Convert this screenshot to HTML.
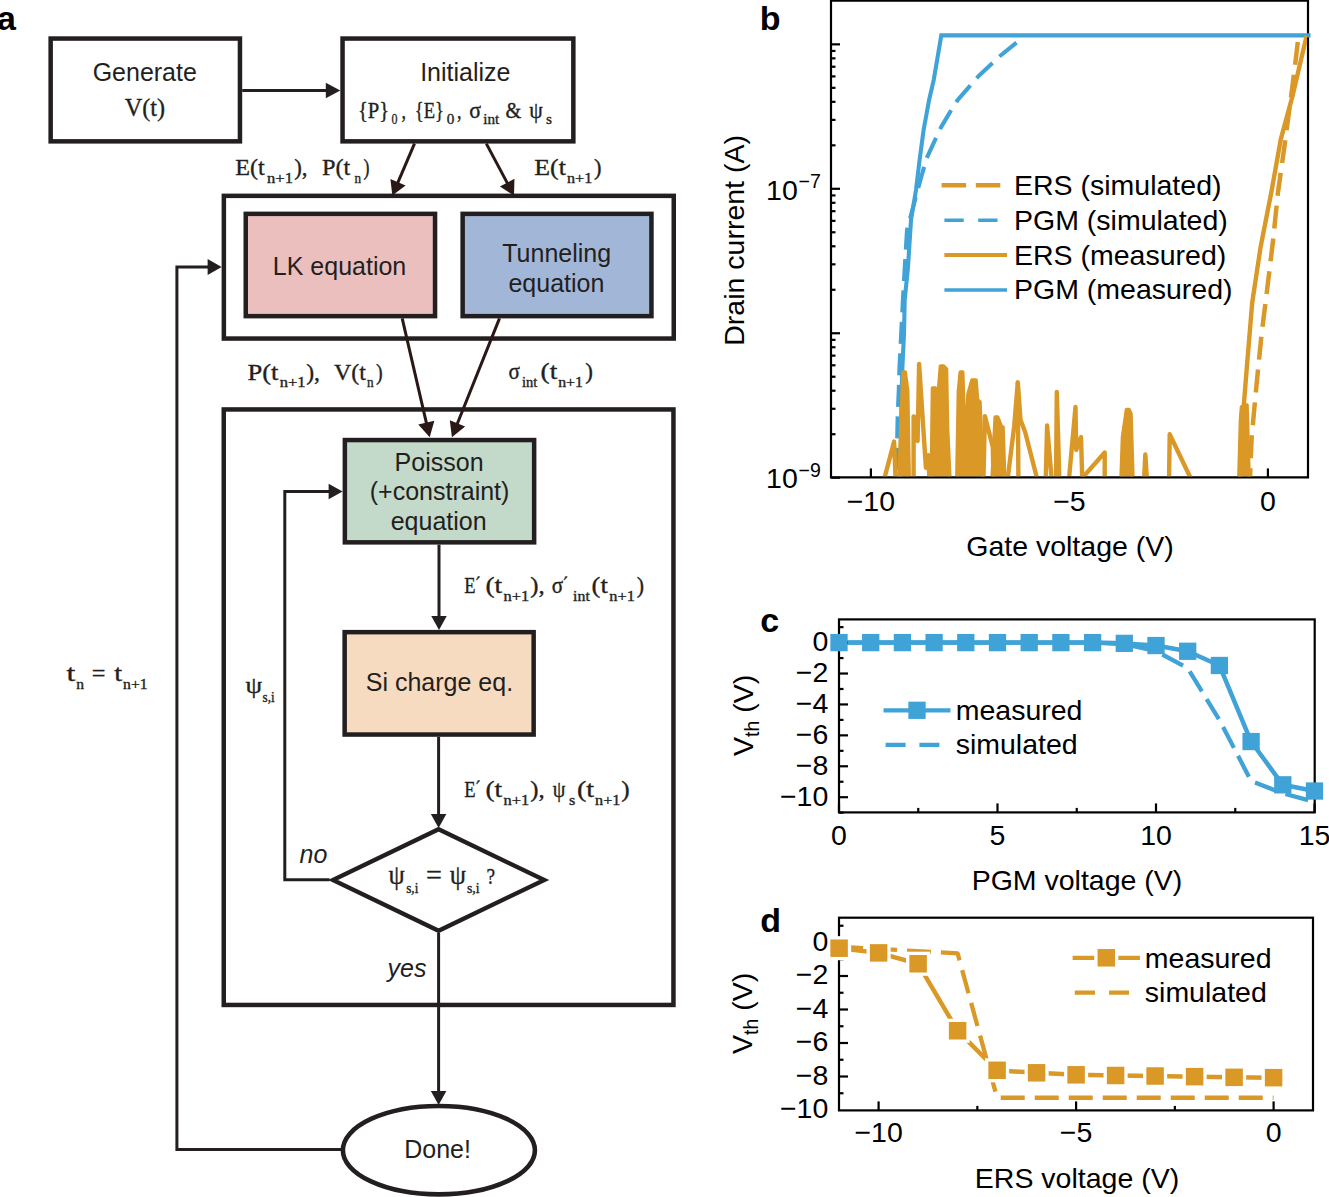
<!DOCTYPE html>
<html><head><meta charset="utf-8"><title>Figure</title>
<style>
html,body{margin:0;padding:0;background:#fff;}
body{width:1329px;height:1197px;overflow:hidden;font-family:"Liberation Sans", sans-serif;}
svg{display:block;}
text{white-space:pre;}
</style></head>
<body>
<svg width="1329" height="1197" viewBox="0 0 1329 1197">
<rect width="1329" height="1197" fill="#fff"/>
<g id="panelA">
<text x="-3.00" y="29.50" font-family='"Liberation Sans", sans-serif' font-size="34" text-anchor="start" font-weight="bold" font-style="normal" fill="#000" >a</text>
<rect x="50.65" y="38.55" width="189.30" height="102.80" fill="#fff" stroke="#231f20" stroke-width="4.5"/>
<rect x="342.55" y="38.55" width="230.80" height="102.80" fill="#fff" stroke="#231f20" stroke-width="4.5"/>
<rect x="223.85" y="195.85" width="449.90" height="142.70" fill="none" stroke="#231f20" stroke-width="4.5"/>
<rect x="245.75" y="213.85" width="189.30" height="102.30" fill="#ecbfbf" stroke="#231f20" stroke-width="4.5"/>
<rect x="462.65" y="213.85" width="188.80" height="102.30" fill="#a2b6d8" stroke="#231f20" stroke-width="4.5"/>
<rect x="223.75" y="409.45" width="449.70" height="595.50" fill="none" stroke="#231f20" stroke-width="4.5"/>
<rect x="344.85" y="440.05" width="189.30" height="102.30" fill="#c3d9ca" stroke="#231f20" stroke-width="4.5"/>
<rect x="344.65" y="632.15" width="189.00" height="102.40" fill="#f6dbc1" stroke="#231f20" stroke-width="4.5"/>
<path d="M438.60,829.20 L544.30,880.00 L438.60,930.80 L332.90,880.00 Z" fill="#fff" stroke="#231f20" stroke-width="4.3" stroke-linejoin="miter" stroke-miterlimit="10"/>
<ellipse cx="438.9" cy="1150.2" rx="96" ry="44.2" fill="#fff" stroke="#231f20" stroke-width="4.6"/>
<path d="M242.20,90.40 L326.80,90.40" fill="none" stroke="#231f20" stroke-width="3" />
<path d="M340.30,90.40 L325.80,98.15 L325.80,82.65 Z" fill="#231f20"/>
<path d="M414.50,143.60 L397.61,183.09" fill="none" stroke="#2a1816" stroke-width="3" />
<path d="M392.30,195.50 L390.42,178.92 L405.59,185.41 Z" fill="#2a1816"/>
<path d="M486.30,143.60 L507.64,183.59" fill="none" stroke="#2a1816" stroke-width="3" />
<path d="M514.00,195.50 L499.89,186.59 L514.45,178.82 Z" fill="#2a1816"/>
<path d="M402.20,318.40 L426.55,423.66" fill="none" stroke="#2a1816" stroke-width="3" />
<path d="M429.70,437.30 L418.28,424.54 L434.36,420.83 Z" fill="#2a1816"/>
<path d="M499.50,318.40 L457.10,424.30" fill="none" stroke="#2a1816" stroke-width="3" />
<path d="M451.90,437.30 L449.82,420.31 L465.13,426.44 Z" fill="#2a1816"/>
<path d="M439.00,544.60 L439.00,617.00" fill="none" stroke="#231f20" stroke-width="3" />
<path d="M439.00,630.00 L431.25,616.00 L446.75,616.00 Z" fill="#231f20"/>
<path d="M438.60,736.80 L438.60,815.00" fill="none" stroke="#231f20" stroke-width="3" />
<path d="M438.60,828.00 L430.85,814.00 L446.35,814.00 Z" fill="#231f20"/>
<path d="M438.60,933.00 L438.60,1092.00" fill="none" stroke="#231f20" stroke-width="3" />
<path d="M438.60,1105.00 L430.85,1091.00 L446.35,1091.00 Z" fill="#231f20"/>
<path d="M329.50,879.80 L284.80,879.80 L284.80,491.60 L329.60,491.60" fill="none" stroke="#231f20" stroke-width="3" />
<path d="M342.60,491.60 L328.60,499.35 L328.60,483.85 Z" fill="#231f20"/>
<path d="M343.00,1149.60 L176.90,1149.60 L176.90,266.90 L208.60,266.90" fill="none" stroke="#231f20" stroke-width="3" />
<path d="M221.60,266.90 L207.60,274.90 L207.60,258.90 Z" fill="#231f20"/>
<text x="144.75" y="80.50" font-family='"Liberation Sans", sans-serif' font-size="25" text-anchor="middle" font-weight="normal" font-style="normal" fill="#231f20" >Generate</text>
<text x="124.70" y="115.90" font-family='"Liberation Serif", serif' font-size="25" text-anchor="start" font-weight="normal" font-style="normal" fill="#231f20" textLength="40.40" lengthAdjust="spacingAndGlyphs"  stroke="#231f20" stroke-width="0.35">V(t)</text>
<text x="465.30" y="80.50" font-family='"Liberation Sans", sans-serif' font-size="25" text-anchor="middle" font-weight="normal" font-style="normal" fill="#231f20" >Initialize</text>
<text x="339.55" y="274.80" font-family='"Liberation Sans", sans-serif' font-size="25" text-anchor="middle" font-weight="normal" font-style="normal" fill="#231f20" >LK equation</text>
<text x="556.70" y="261.80" font-family='"Liberation Sans", sans-serif' font-size="25" text-anchor="middle" font-weight="normal" font-style="normal" fill="#231f20" >Tunneling</text>
<text x="556.45" y="291.90" font-family='"Liberation Sans", sans-serif' font-size="25" text-anchor="middle" font-weight="normal" font-style="normal" fill="#231f20" >equation</text>
<text x="439.10" y="470.60" font-family='"Liberation Sans", sans-serif' font-size="25" text-anchor="middle" font-weight="normal" font-style="normal" fill="#231f20" >Poisson</text>
<text x="439.55" y="500.40" font-family='"Liberation Sans", sans-serif' font-size="25" text-anchor="middle" font-weight="normal" font-style="normal" fill="#231f20" >(+constraint)</text>
<text x="438.70" y="530.20" font-family='"Liberation Sans", sans-serif' font-size="25" text-anchor="middle" font-weight="normal" font-style="normal" fill="#231f20" >equation</text>
<text x="439.45" y="690.90" font-family='"Liberation Sans", sans-serif' font-size="25" text-anchor="middle" font-weight="normal" font-style="normal" fill="#231f20" >Si charge eq.</text>
<text x="437.60" y="1157.50" font-family='"Liberation Sans", sans-serif' font-size="25" text-anchor="middle" font-weight="normal" font-style="normal" fill="#231f20" >Done!</text>
<text x="299.60" y="862.70" font-family='"Liberation Sans", sans-serif' font-size="25" text-anchor="start" font-weight="normal" font-style="italic" fill="#231f20" >no</text>
<text x="387.50" y="977.00" font-family='"Liberation Sans", sans-serif' font-size="25" text-anchor="start" font-weight="normal" font-style="italic" fill="#231f20" >yes</text>
<text x="357.90" y="118.40" font-family='"Liberation Serif", serif' font-size="23" text-anchor="start" font-weight="normal" font-style="normal" fill="#231f20" textLength="31.30" lengthAdjust="spacingAndGlyphs"  stroke="#231f20" stroke-width="0.35">{P}</text>
<text x="391.40" y="124.00" font-family='"Liberation Serif", serif' font-size="15" text-anchor="start" font-weight="normal" font-style="normal" fill="#231f20" textLength="6.00" lengthAdjust="spacingAndGlyphs"  stroke="#231f20" stroke-width="0.35">0</text>
<text x="401.50" y="118.40" font-family='"Liberation Serif", serif' font-size="23" text-anchor="start" font-weight="normal" font-style="normal" fill="#231f20" textLength="4.50" lengthAdjust="spacingAndGlyphs"  stroke="#231f20" stroke-width="0.35">,</text>
<text x="414.80" y="118.40" font-family='"Liberation Serif", serif' font-size="23" text-anchor="start" font-weight="normal" font-style="normal" fill="#231f20" textLength="29.20" lengthAdjust="spacingAndGlyphs"  stroke="#231f20" stroke-width="0.35">{E}</text>
<text x="446.70" y="124.00" font-family='"Liberation Serif", serif' font-size="15" text-anchor="start" font-weight="normal" font-style="normal" fill="#231f20" textLength="7.60" lengthAdjust="spacingAndGlyphs"  stroke="#231f20" stroke-width="0.35">0</text>
<text x="457.00" y="118.40" font-family='"Liberation Serif", serif' font-size="23" text-anchor="start" font-weight="normal" font-style="normal" fill="#231f20" textLength="4.50" lengthAdjust="spacingAndGlyphs"  stroke="#231f20" stroke-width="0.35">,</text>
<text x="469.30" y="118.40" font-family='"Liberation Serif", serif' font-size="23" text-anchor="start" font-weight="normal" font-style="normal" fill="#231f20" textLength="11.80" lengthAdjust="spacingAndGlyphs"  stroke="#231f20" stroke-width="0.35">σ</text>
<text x="483.20" y="124.00" font-family='"Liberation Serif", serif' font-size="15" text-anchor="start" font-weight="normal" font-style="normal" fill="#231f20" textLength="16.10" lengthAdjust="spacingAndGlyphs"  stroke="#231f20" stroke-width="0.35">int</text>
<text x="505.60" y="118.40" font-family='"Liberation Serif", serif' font-size="23" text-anchor="start" font-weight="normal" font-style="normal" fill="#231f20" textLength="15.80" lengthAdjust="spacingAndGlyphs"  stroke="#231f20" stroke-width="0.35">&amp;</text>
<text x="529.30" y="118.40" font-family='"Liberation Serif", serif' font-size="23" text-anchor="start" font-weight="normal" font-style="normal" fill="#231f20" textLength="13.50" lengthAdjust="spacingAndGlyphs"  stroke="#231f20" stroke-width="0.35">ψ</text>
<text x="545.90" y="124.00" font-family='"Liberation Serif", serif' font-size="15" text-anchor="start" font-weight="normal" font-style="normal" fill="#231f20" textLength="6.00" lengthAdjust="spacingAndGlyphs"  stroke="#231f20" stroke-width="0.35">s</text>
<text x="235.20" y="174.90" font-family='"Liberation Serif", serif' font-size="23" text-anchor="start" font-weight="normal" font-style="normal" fill="#231f20" textLength="29.50" lengthAdjust="spacingAndGlyphs"  stroke="#231f20" stroke-width="0.35">E(t</text>
<text x="267.10" y="182.50" font-family='"Liberation Serif", serif' font-size="14" text-anchor="start" font-weight="normal" font-style="normal" fill="#231f20" textLength="25.90" lengthAdjust="spacingAndGlyphs"  stroke="#231f20" stroke-width="0.35">n+1</text>
<text x="294.20" y="174.90" font-family='"Liberation Serif", serif' font-size="23" text-anchor="start" font-weight="normal" font-style="normal" fill="#231f20" textLength="13.30" lengthAdjust="spacingAndGlyphs"  stroke="#231f20" stroke-width="0.35">),</text>
<text x="321.90" y="174.90" font-family='"Liberation Serif", serif' font-size="23" text-anchor="start" font-weight="normal" font-style="normal" fill="#231f20" textLength="28.30" lengthAdjust="spacingAndGlyphs"  stroke="#231f20" stroke-width="0.35">P(t</text>
<text x="354.40" y="182.50" font-family='"Liberation Serif", serif' font-size="14" text-anchor="start" font-weight="normal" font-style="normal" fill="#231f20" textLength="6.60" lengthAdjust="spacingAndGlyphs"  stroke="#231f20" stroke-width="0.35">n</text>
<text x="363.50" y="174.90" font-family='"Liberation Serif", serif' font-size="23" text-anchor="start" font-weight="normal" font-style="normal" fill="#231f20" textLength="6.00" lengthAdjust="spacingAndGlyphs"  stroke="#231f20" stroke-width="0.35">)</text>
<text x="534.30" y="174.70" font-family='"Liberation Serif", serif' font-size="23" text-anchor="start" font-weight="normal" font-style="normal" fill="#231f20" textLength="31.60" lengthAdjust="spacingAndGlyphs"  stroke="#231f20" stroke-width="0.35">E(t</text>
<text x="567.00" y="183.00" font-family='"Liberation Serif", serif' font-size="14" text-anchor="start" font-weight="normal" font-style="normal" fill="#231f20" textLength="25.20" lengthAdjust="spacingAndGlyphs"  stroke="#231f20" stroke-width="0.35">n+1</text>
<text x="594.10" y="174.70" font-family='"Liberation Serif", serif' font-size="23" text-anchor="start" font-weight="normal" font-style="normal" fill="#231f20" textLength="7.50" lengthAdjust="spacingAndGlyphs"  stroke="#231f20" stroke-width="0.35">)</text>
<text x="247.50" y="379.50" font-family='"Liberation Serif", serif' font-size="23" text-anchor="start" font-weight="normal" font-style="normal" fill="#231f20" textLength="31.00" lengthAdjust="spacingAndGlyphs"  stroke="#231f20" stroke-width="0.35">P(t</text>
<text x="279.70" y="387.30" font-family='"Liberation Serif", serif' font-size="14" text-anchor="start" font-weight="normal" font-style="normal" fill="#231f20" textLength="25.90" lengthAdjust="spacingAndGlyphs"  stroke="#231f20" stroke-width="0.35">n+1</text>
<text x="306.20" y="379.50" font-family='"Liberation Serif", serif' font-size="23" text-anchor="start" font-weight="normal" font-style="normal" fill="#231f20" textLength="13.80" lengthAdjust="spacingAndGlyphs"  stroke="#231f20" stroke-width="0.35">),</text>
<text x="333.90" y="379.50" font-family='"Liberation Serif", serif' font-size="23" text-anchor="start" font-weight="normal" font-style="normal" fill="#231f20" textLength="31.90" lengthAdjust="spacingAndGlyphs"  stroke="#231f20" stroke-width="0.35">V(t</text>
<text x="367.00" y="387.30" font-family='"Liberation Serif", serif' font-size="14" text-anchor="start" font-weight="normal" font-style="normal" fill="#231f20" textLength="6.60" lengthAdjust="spacingAndGlyphs"  stroke="#231f20" stroke-width="0.35">n</text>
<text x="376.00" y="379.50" font-family='"Liberation Serif", serif' font-size="23" text-anchor="start" font-weight="normal" font-style="normal" fill="#231f20" textLength="6.70" lengthAdjust="spacingAndGlyphs"  stroke="#231f20" stroke-width="0.35">)</text>
<text x="508.40" y="379.30" font-family='"Liberation Serif", serif' font-size="23" text-anchor="start" font-weight="normal" font-style="normal" fill="#231f20" textLength="11.40" lengthAdjust="spacingAndGlyphs"  stroke="#231f20" stroke-width="0.35">σ</text>
<text x="522.10" y="387.00" font-family='"Liberation Serif", serif' font-size="14" text-anchor="start" font-weight="normal" font-style="normal" fill="#231f20" textLength="15.30" lengthAdjust="spacingAndGlyphs"  stroke="#231f20" stroke-width="0.35">int</text>
<text x="540.60" y="379.30" font-family='"Liberation Serif", serif' font-size="23" text-anchor="start" font-weight="normal" font-style="normal" fill="#231f20" textLength="16.70" lengthAdjust="spacingAndGlyphs"  stroke="#231f20" stroke-width="0.35">(t</text>
<text x="558.20" y="387.00" font-family='"Liberation Serif", serif' font-size="14" text-anchor="start" font-weight="normal" font-style="normal" fill="#231f20" textLength="24.80" lengthAdjust="spacingAndGlyphs"  stroke="#231f20" stroke-width="0.35">n+1</text>
<text x="585.30" y="379.30" font-family='"Liberation Serif", serif' font-size="23" text-anchor="start" font-weight="normal" font-style="normal" fill="#231f20" textLength="7.70" lengthAdjust="spacingAndGlyphs"  stroke="#231f20" stroke-width="0.35">)</text>
<text x="464.20" y="592.90" font-family='"Liberation Serif", serif' font-size="23" text-anchor="start" font-weight="normal" font-style="normal" fill="#231f20" textLength="11.30" lengthAdjust="spacingAndGlyphs"  stroke="#231f20" stroke-width="0.35">E</text>
<text x="475.30" y="592.90" font-family='"Liberation Serif", serif' font-size="23" text-anchor="start" font-weight="normal" font-style="normal" fill="#231f20" textLength="5.20" lengthAdjust="spacingAndGlyphs"  stroke="#231f20" stroke-width="0.35">´</text>
<text x="485.50" y="592.90" font-family='"Liberation Serif", serif' font-size="23" text-anchor="start" font-weight="normal" font-style="normal" fill="#231f20" textLength="16.70" lengthAdjust="spacingAndGlyphs"  stroke="#231f20" stroke-width="0.35">(t</text>
<text x="503.60" y="600.50" font-family='"Liberation Serif", serif' font-size="14" text-anchor="start" font-weight="normal" font-style="normal" fill="#231f20" textLength="25.70" lengthAdjust="spacingAndGlyphs"  stroke="#231f20" stroke-width="0.35">n+1</text>
<text x="530.20" y="592.90" font-family='"Liberation Serif", serif' font-size="23" text-anchor="start" font-weight="normal" font-style="normal" fill="#231f20" textLength="14.40" lengthAdjust="spacingAndGlyphs"  stroke="#231f20" stroke-width="0.35">),</text>
<text x="551.80" y="592.90" font-family='"Liberation Serif", serif' font-size="23" text-anchor="start" font-weight="normal" font-style="normal" fill="#231f20" textLength="11.40" lengthAdjust="spacingAndGlyphs"  stroke="#231f20" stroke-width="0.35">σ</text>
<text x="562.80" y="592.90" font-family='"Liberation Serif", serif' font-size="23" text-anchor="start" font-weight="normal" font-style="normal" fill="#231f20" textLength="5.20" lengthAdjust="spacingAndGlyphs"  stroke="#231f20" stroke-width="0.35">´</text>
<text x="573.10" y="600.50" font-family='"Liberation Serif", serif' font-size="14" text-anchor="start" font-weight="normal" font-style="normal" fill="#231f20" textLength="16.70" lengthAdjust="spacingAndGlyphs"  stroke="#231f20" stroke-width="0.35">int</text>
<text x="591.60" y="592.90" font-family='"Liberation Serif", serif' font-size="23" text-anchor="start" font-weight="normal" font-style="normal" fill="#231f20" textLength="16.20" lengthAdjust="spacingAndGlyphs"  stroke="#231f20" stroke-width="0.35">(t</text>
<text x="609.30" y="600.50" font-family='"Liberation Serif", serif' font-size="14" text-anchor="start" font-weight="normal" font-style="normal" fill="#231f20" textLength="25.60" lengthAdjust="spacingAndGlyphs"  stroke="#231f20" stroke-width="0.35">n+1</text>
<text x="636.70" y="592.90" font-family='"Liberation Serif", serif' font-size="23" text-anchor="start" font-weight="normal" font-style="normal" fill="#231f20" textLength="7.30" lengthAdjust="spacingAndGlyphs"  stroke="#231f20" stroke-width="0.35">)</text>
<text x="464.20" y="796.80" font-family='"Liberation Serif", serif' font-size="23" text-anchor="start" font-weight="normal" font-style="normal" fill="#231f20" textLength="11.30" lengthAdjust="spacingAndGlyphs"  stroke="#231f20" stroke-width="0.35">E</text>
<text x="475.30" y="796.80" font-family='"Liberation Serif", serif' font-size="23" text-anchor="start" font-weight="normal" font-style="normal" fill="#231f20" textLength="5.20" lengthAdjust="spacingAndGlyphs"  stroke="#231f20" stroke-width="0.35">´</text>
<text x="485.50" y="796.80" font-family='"Liberation Serif", serif' font-size="23" text-anchor="start" font-weight="normal" font-style="normal" fill="#231f20" textLength="16.70" lengthAdjust="spacingAndGlyphs"  stroke="#231f20" stroke-width="0.35">(t</text>
<text x="503.60" y="804.50" font-family='"Liberation Serif", serif' font-size="14" text-anchor="start" font-weight="normal" font-style="normal" fill="#231f20" textLength="25.70" lengthAdjust="spacingAndGlyphs"  stroke="#231f20" stroke-width="0.35">n+1</text>
<text x="530.20" y="796.80" font-family='"Liberation Serif", serif' font-size="23" text-anchor="start" font-weight="normal" font-style="normal" fill="#231f20" textLength="14.40" lengthAdjust="spacingAndGlyphs"  stroke="#231f20" stroke-width="0.35">),</text>
<text x="552.70" y="796.80" font-family='"Liberation Serif", serif' font-size="23" text-anchor="start" font-weight="normal" font-style="normal" fill="#231f20" textLength="12.60" lengthAdjust="spacingAndGlyphs"  stroke="#231f20" stroke-width="0.35">ψ</text>
<text x="568.90" y="804.50" font-family='"Liberation Serif", serif' font-size="14" text-anchor="start" font-weight="normal" font-style="normal" fill="#231f20" textLength="6.30" lengthAdjust="spacingAndGlyphs"  stroke="#231f20" stroke-width="0.35">s</text>
<text x="577.00" y="796.80" font-family='"Liberation Serif", serif' font-size="23" text-anchor="start" font-weight="normal" font-style="normal" fill="#231f20" textLength="17.20" lengthAdjust="spacingAndGlyphs"  stroke="#231f20" stroke-width="0.35">(t</text>
<text x="595.10" y="804.50" font-family='"Liberation Serif", serif' font-size="14" text-anchor="start" font-weight="normal" font-style="normal" fill="#231f20" textLength="25.30" lengthAdjust="spacingAndGlyphs"  stroke="#231f20" stroke-width="0.35">n+1</text>
<text x="621.30" y="796.80" font-family='"Liberation Serif", serif' font-size="23" text-anchor="start" font-weight="normal" font-style="normal" fill="#231f20" textLength="8.40" lengthAdjust="spacingAndGlyphs"  stroke="#231f20" stroke-width="0.35">)</text>
<text x="388.60" y="884.40" font-family='"Liberation Serif", serif' font-size="27.5" text-anchor="start" font-weight="normal" font-style="normal" fill="#231f20" textLength="16.20" lengthAdjust="spacingAndGlyphs"  stroke="#231f20" stroke-width="0.35">ψ</text>
<text x="406.20" y="892.50" font-family='"Liberation Serif", serif' font-size="14" text-anchor="start" font-weight="normal" font-style="normal" fill="#231f20" textLength="12.20" lengthAdjust="spacingAndGlyphs"  stroke="#231f20" stroke-width="0.35">s,i</text>
<text x="426.00" y="884.40" font-family='"Liberation Serif", serif' font-size="27" text-anchor="start" font-weight="normal" font-style="normal" fill="#231f20" textLength="15.90" lengthAdjust="spacingAndGlyphs"  stroke="#231f20" stroke-width="0.35">=</text>
<text x="449.80" y="884.40" font-family='"Liberation Serif", serif' font-size="27.5" text-anchor="start" font-weight="normal" font-style="normal" fill="#231f20" textLength="16.20" lengthAdjust="spacingAndGlyphs"  stroke="#231f20" stroke-width="0.35">ψ</text>
<text x="466.90" y="892.50" font-family='"Liberation Serif", serif' font-size="14" text-anchor="start" font-weight="normal" font-style="normal" fill="#231f20" textLength="12.70" lengthAdjust="spacingAndGlyphs"  stroke="#231f20" stroke-width="0.35">s,i</text>
<text x="486.50" y="884.40" font-family='"Liberation Serif", serif' font-size="24" text-anchor="start" font-weight="normal" font-style="normal" fill="#231f20" textLength="8.60" lengthAdjust="spacingAndGlyphs"  stroke="#231f20" stroke-width="0.35">?</text>
<text x="66.40" y="681.30" font-family='"Liberation Serif", serif' font-size="23" text-anchor="start" font-weight="normal" font-style="normal" fill="#231f20" textLength="8.80" lengthAdjust="spacingAndGlyphs"  stroke="#231f20" stroke-width="0.35">t</text>
<text x="76.20" y="688.50" font-family='"Liberation Serif", serif' font-size="14" text-anchor="start" font-weight="normal" font-style="normal" fill="#231f20" textLength="7.80" lengthAdjust="spacingAndGlyphs"  stroke="#231f20" stroke-width="0.35">n</text>
<text x="91.80" y="681.30" font-family='"Liberation Serif", serif' font-size="23" text-anchor="start" font-weight="normal" font-style="normal" fill="#231f20" textLength="13.70" lengthAdjust="spacingAndGlyphs"  stroke="#231f20" stroke-width="0.35">=</text>
<text x="114.30" y="681.30" font-family='"Liberation Serif", serif' font-size="23" text-anchor="start" font-weight="normal" font-style="normal" fill="#231f20" textLength="7.90" lengthAdjust="spacingAndGlyphs"  stroke="#231f20" stroke-width="0.35">t</text>
<text x="123.10" y="688.50" font-family='"Liberation Serif", serif' font-size="14" text-anchor="start" font-weight="normal" font-style="normal" fill="#231f20" textLength="24.50" lengthAdjust="spacingAndGlyphs"  stroke="#231f20" stroke-width="0.35">n+1</text>
<text x="245.40" y="693.00" font-family='"Liberation Serif", serif' font-size="24" text-anchor="start" font-weight="normal" font-style="normal" fill="#231f20" textLength="16.60" lengthAdjust="spacingAndGlyphs"  stroke="#231f20" stroke-width="0.35">ψ</text>
<text x="262.60" y="701.50" font-family='"Liberation Serif", serif' font-size="14" text-anchor="start" font-weight="normal" font-style="normal" fill="#231f20" textLength="12.10" lengthAdjust="spacingAndGlyphs"  stroke="#231f20" stroke-width="0.35">s,i</text>
</g>
<defs><clipPath id="cb"><rect x="832" y="1" width="475" height="475.3"/></clipPath><clipPath id="cb2"><rect x="800" y="0" width="529" height="476.3"/></clipPath><clipPath id="cc"><rect x="820" y="600" width="509" height="212.4"/></clipPath><clipPath id="cd"><rect x="820" y="900" width="509" height="210.5"/></clipPath></defs>
<text x="759.70" y="30.20" font-family='"Liberation Sans", sans-serif' font-size="34" text-anchor="start" font-weight="bold" font-style="normal" fill="#000" >b</text>
<path d="M831,0 L831,477.4 L1308,477.4 L1308,0" fill="none" stroke="#000" stroke-width="2.2"/>
<line x1="831" y1="0.6" x2="1308" y2="0.6" stroke="#000" stroke-width="2.2"/>
<line x1="831.00" y1="477.70" x2="840.00" y2="477.70" stroke="#000" stroke-width="2.2"/>
<line x1="831.00" y1="333.25" x2="840.00" y2="333.25" stroke="#000" stroke-width="2.2"/>
<line x1="831.00" y1="188.80" x2="840.00" y2="188.80" stroke="#000" stroke-width="2.2"/>
<line x1="831.00" y1="44.35" x2="840.00" y2="44.35" stroke="#000" stroke-width="2.2"/>
<line x1="831.00" y1="434.22" x2="835.50" y2="434.22" stroke="#000" stroke-width="2.2"/>
<line x1="831.00" y1="408.78" x2="835.50" y2="408.78" stroke="#000" stroke-width="2.2"/>
<line x1="831.00" y1="390.73" x2="835.50" y2="390.73" stroke="#000" stroke-width="2.2"/>
<line x1="831.00" y1="376.73" x2="835.50" y2="376.73" stroke="#000" stroke-width="2.2"/>
<line x1="831.00" y1="365.30" x2="835.50" y2="365.30" stroke="#000" stroke-width="2.2"/>
<line x1="831.00" y1="355.63" x2="835.50" y2="355.63" stroke="#000" stroke-width="2.2"/>
<line x1="831.00" y1="347.25" x2="835.50" y2="347.25" stroke="#000" stroke-width="2.2"/>
<line x1="831.00" y1="339.86" x2="835.50" y2="339.86" stroke="#000" stroke-width="2.2"/>
<line x1="831.00" y1="289.77" x2="835.50" y2="289.77" stroke="#000" stroke-width="2.2"/>
<line x1="831.00" y1="264.33" x2="835.50" y2="264.33" stroke="#000" stroke-width="2.2"/>
<line x1="831.00" y1="246.28" x2="835.50" y2="246.28" stroke="#000" stroke-width="2.2"/>
<line x1="831.00" y1="232.28" x2="835.50" y2="232.28" stroke="#000" stroke-width="2.2"/>
<line x1="831.00" y1="220.85" x2="835.50" y2="220.85" stroke="#000" stroke-width="2.2"/>
<line x1="831.00" y1="211.18" x2="835.50" y2="211.18" stroke="#000" stroke-width="2.2"/>
<line x1="831.00" y1="202.80" x2="835.50" y2="202.80" stroke="#000" stroke-width="2.2"/>
<line x1="831.00" y1="195.41" x2="835.50" y2="195.41" stroke="#000" stroke-width="2.2"/>
<line x1="831.00" y1="145.32" x2="835.50" y2="145.32" stroke="#000" stroke-width="2.2"/>
<line x1="831.00" y1="119.88" x2="835.50" y2="119.88" stroke="#000" stroke-width="2.2"/>
<line x1="831.00" y1="101.83" x2="835.50" y2="101.83" stroke="#000" stroke-width="2.2"/>
<line x1="831.00" y1="87.83" x2="835.50" y2="87.83" stroke="#000" stroke-width="2.2"/>
<line x1="831.00" y1="76.40" x2="835.50" y2="76.40" stroke="#000" stroke-width="2.2"/>
<line x1="831.00" y1="66.73" x2="835.50" y2="66.73" stroke="#000" stroke-width="2.2"/>
<line x1="831.00" y1="58.35" x2="835.50" y2="58.35" stroke="#000" stroke-width="2.2"/>
<line x1="831.00" y1="50.96" x2="835.50" y2="50.96" stroke="#000" stroke-width="2.2"/>
<line x1="870.90" y1="477.40" x2="870.90" y2="468.40" stroke="#000" stroke-width="2.2"/>
<line x1="1069.40" y1="477.40" x2="1069.40" y2="468.40" stroke="#000" stroke-width="2.2"/>
<line x1="1267.90" y1="477.40" x2="1267.90" y2="468.40" stroke="#000" stroke-width="2.2"/>
<path d="M1016.50,42.60 L1000.00,56.00 L978.90,75.70 L957.80,99.80 L952.70,107.50 L941.10,127.10 L936.60,136.60 L926.60,158.20 L921.00,178.00 L917.60,190.30 L907.00,230.00 L904.60,270.00 L902.90,300.00 L901.20,333.00 L899.50,367.00 L898.70,392.00 L897.70,414.00 L897.00,448.00 L896.50,490.00" fill="none" stroke="#40a3d8" stroke-width="4.1" stroke-linecap="butt" stroke-linejoin="round" stroke-dasharray="22 9.5" clip-path="url(#cb)"/>
<path d="M1310.50,35.40 L941.30,35.40 L933.70,80.20 L929.10,100.00 L923.60,130.00 L919.60,160.00 L916.00,190.00 L911.00,220.00 L908.00,267.00 L904.70,300.00 L904.00,334.00 L902.40,367.00 L901.60,392.00 L901.00,430.00 L900.50,490.00" fill="none" stroke="#40a3d8" stroke-width="4.1" stroke-linecap="butt" stroke-linejoin="miter" clip-path="url(#cb2)"/>
<path d="M1297.80,42.00 L1296.00,57.60 L1292.30,87.30 L1284.60,145.00 L1277.90,193.00 L1273.00,241.00 L1266.80,292.20 L1261.60,334.00 L1256.40,386.10 L1251.60,438.30 L1249.50,490.00" fill="none" stroke="#da9826" stroke-width="4.5" stroke-linecap="butt" stroke-linejoin="round" stroke-dasharray="23 10" clip-path="url(#cb)"/>
<path d="M898.80,481.00 L903.00,372.00 L905.20,372.00 L907.70,391.00 L909.20,481.00 Z" fill="#da9826" stroke="#da9826" stroke-width="3.6" stroke-linejoin="round" clip-path="url(#cb)"/>
<path d="M931.30,481.00 L932.50,388.00 L935.30,388.00 L938.00,396.00 L940.50,366.00 L943.50,366.00 L946.50,369.00 L947.50,427.00 L950.00,481.00 Z" fill="#da9826" stroke="#da9826" stroke-width="3.6" stroke-linejoin="round" clip-path="url(#cb)"/>
<path d="M956.80,481.00 L958.40,391.50 L960.30,372.00 L962.70,372.00 L964.50,427.00 L966.50,427.00 L968.00,394.00 L972.00,380.00 L976.00,380.00 L977.50,400.00 L980.00,402.00 L983.00,481.00 Z" fill="#da9826" stroke="#da9826" stroke-width="3.6" stroke-linejoin="round" clip-path="url(#cb)"/>
<path d="M992.00,481.00 L995.20,417.00 L997.60,417.00 L1001.60,427.00 L1003.00,427.00 L1004.80,481.00 Z" fill="#da9826" stroke="#da9826" stroke-width="3.6" stroke-linejoin="round" clip-path="url(#cb)"/>
<path d="M1121.00,481.00 L1122.50,437.00 L1126.50,409.50 L1129.00,409.50 L1131.00,414.00 L1133.00,481.00 Z" fill="#da9826" stroke="#da9826" stroke-width="3.6" stroke-linejoin="round" clip-path="url(#cb)"/>
<path d="M1238.80,481.00 L1240.50,420.00 L1241.50,407.00 L1247.00,405.00 L1249.20,481.00 Z" fill="#da9826" stroke="#da9826" stroke-width="3.6" stroke-linejoin="round" clip-path="url(#cb)"/>
<path d="M883.70,481.00 L894.10,441.60 L895.70,481.00" fill="none" stroke="#da9826" stroke-width="4.4" stroke-linecap="butt" stroke-linejoin="round" clip-path="url(#cb)"/>
<path d="M913.60,481.00 L913.60,416.50 L916.50,418.00 L917.60,441.00 L919.10,364.00 L925.90,467.70 L928.30,455.20 L929.50,481.00" fill="none" stroke="#da9826" stroke-width="4.4" stroke-linecap="butt" stroke-linejoin="round" clip-path="url(#cb)"/>
<path d="M983.40,481.00 L984.90,416.10 L992.80,447.00 L993.50,481.00" fill="none" stroke="#da9826" stroke-width="4.4" stroke-linecap="butt" stroke-linejoin="round" clip-path="url(#cb)"/>
<path d="M1007.40,481.00 L1014.20,426.00 L1017.80,382.20 L1018.40,481.00" fill="none" stroke="#da9826" stroke-width="4.4" stroke-linecap="butt" stroke-linejoin="round" clip-path="url(#cb)"/>
<path d="M1017.80,382.20 L1020.50,419.80 L1025.20,432.30 L1037.70,481.00" fill="none" stroke="#da9826" stroke-width="4.4" stroke-linecap="butt" stroke-linejoin="round" clip-path="url(#cb)"/>
<path d="M1045.70,481.00 L1047.10,425.40 L1051.80,481.00" fill="none" stroke="#da9826" stroke-width="4.4" stroke-linecap="butt" stroke-linejoin="round" clip-path="url(#cb)"/>
<path d="M1056.00,481.00 L1056.80,392.00 L1058.60,453.00 L1059.30,481.00" fill="none" stroke="#da9826" stroke-width="4.4" stroke-linecap="butt" stroke-linejoin="round" clip-path="url(#cb)"/>
<path d="M1068.80,481.00 L1075.50,407.00 L1076.20,450.00 L1081.00,437.00 L1082.30,481.00" fill="none" stroke="#da9826" stroke-width="4.4" stroke-linecap="butt" stroke-linejoin="round" clip-path="url(#cb)"/>
<path d="M1082.30,478.00 L1104.70,452.50 L1104.70,481.00" fill="none" stroke="#da9826" stroke-width="4.4" stroke-linecap="butt" stroke-linejoin="round" clip-path="url(#cb)"/>
<path d="M1144.00,481.00 L1145.30,454.50 L1147.00,481.00" fill="none" stroke="#da9826" stroke-width="4.4" stroke-linecap="butt" stroke-linejoin="round" clip-path="url(#cb)"/>
<path d="M1169.00,481.00 L1169.70,434.20 L1192.00,481.00" fill="none" stroke="#da9826" stroke-width="4.4" stroke-linecap="butt" stroke-linejoin="round" clip-path="url(#cb)"/>
<path d="M1306.70,35.50 L1292.30,96.90 L1280.80,139.20 L1271.20,193.00 L1260.60,247.00 L1252.20,302.60 L1247.00,365.30 L1242.80,417.50 L1240.00,490.00" fill="none" stroke="#da9826" stroke-width="4.4" stroke-linecap="butt" stroke-linejoin="round" clip-path="url(#cb)"/>
<text x="870.90" y="510.70" font-family='"Liberation Sans", sans-serif' font-size="28.5" text-anchor="middle" font-weight="normal" font-style="normal" fill="#000" >−10</text>
<text x="1069.40" y="510.70" font-family='"Liberation Sans", sans-serif' font-size="28.5" text-anchor="middle" font-weight="normal" font-style="normal" fill="#000" >−5</text>
<text x="1267.90" y="510.70" font-family='"Liberation Sans", sans-serif' font-size="28.5" text-anchor="middle" font-weight="normal" font-style="normal" fill="#000" >0</text>
<text x="797.80" y="199.70" font-family='"Liberation Sans", sans-serif' font-size="28.5" text-anchor="end" font-weight="normal" font-style="normal" fill="#000" >10</text>
<text x="798.60" y="188.30" font-family='"Liberation Sans", sans-serif' font-size="19.5" text-anchor="start" font-weight="normal" font-style="normal" fill="#000" >−7</text>
<text x="797.80" y="488.40" font-family='"Liberation Sans", sans-serif' font-size="28.5" text-anchor="end" font-weight="normal" font-style="normal" fill="#000" >10</text>
<text x="798.60" y="477.00" font-family='"Liberation Sans", sans-serif' font-size="19.5" text-anchor="start" font-weight="normal" font-style="normal" fill="#000" >−9</text>
<text x="1070.00" y="555.50" font-family='"Liberation Sans", sans-serif' font-size="28.5" text-anchor="middle" font-weight="normal" font-style="normal" fill="#000" >Gate voltage (V)</text>
<text x="0.00" y="0.00" font-family='"Liberation Sans", sans-serif' font-size="28.5" text-anchor="middle" font-weight="normal" font-style="normal" fill="#000" transform="translate(744.0,240.4) rotate(-90)">Drain current (A)</text>
<line x1="941.6" y1="185.3" x2="1000.3" y2="185.3" stroke="#da9826" stroke-width="4.5" stroke-dasharray="24.5 9.7"/>
<line x1="944.4" y1="220.2" x2="998.6" y2="220.2" stroke="#40a3d8" stroke-width="3.6" stroke-dasharray="19.3 14.5"/>
<line x1="944.4" y1="255.1" x2="1007" y2="255.1" stroke="#da9826" stroke-width="4"/>
<line x1="944.4" y1="290.0" x2="1007" y2="290.0" stroke="#40a3d8" stroke-width="3.6"/>
<text x="1014.00" y="194.90" font-family='"Liberation Sans", sans-serif' font-size="28.5" text-anchor="start" font-weight="normal" font-style="normal" fill="#000" >ERS (simulated)</text>
<text x="1014.00" y="229.80" font-family='"Liberation Sans", sans-serif' font-size="28.5" text-anchor="start" font-weight="normal" font-style="normal" fill="#000" >PGM (simulated)</text>
<text x="1014.00" y="264.70" font-family='"Liberation Sans", sans-serif' font-size="28.5" text-anchor="start" font-weight="normal" font-style="normal" fill="#000" >ERS (measured)</text>
<text x="1014.00" y="299.20" font-family='"Liberation Sans", sans-serif' font-size="28.5" text-anchor="start" font-weight="normal" font-style="normal" fill="#000" >PGM (measured)</text>
<text x="760.30" y="632.40" font-family='"Liberation Sans", sans-serif' font-size="34" text-anchor="start" font-weight="bold" font-style="normal" fill="#000" >c</text>
<path d="M839.00,642.60 L1092.60,642.60 L1124.30,644.15 L1156.00,651.10 L1187.70,668.11 L1219.40,719.90 L1251.10,780.97 L1282.80,793.34 L1314.50,801.84" fill="none" stroke="#40a3d8" stroke-width="4.3" stroke-linecap="butt" stroke-linejoin="round" stroke-dasharray="23.5 9" clip-path="url(#cc)"/>
<path d="M839.00,642.60 L870.70,642.60 L902.40,642.60 L934.10,642.60 L965.80,642.60 L997.50,642.60 L1029.20,642.60 L1060.90,642.60 L1092.60,642.60 L1124.30,643.37 L1156.00,645.54 L1187.70,651.26 L1219.40,665.48 L1251.10,741.54 L1282.80,784.83 L1314.50,791.02" fill="none" stroke="#40a3d8" stroke-width="4.5" stroke-linecap="butt" stroke-linejoin="round" clip-path="url(#cc)"/>
<rect x="839.00" y="619.40" width="475.70" height="193.00" fill="none" stroke="#000" stroke-width="2.2"/>
<line x1="839.00" y1="642.60" x2="848.00" y2="642.60" stroke="#000" stroke-width="2.2"/>
<line x1="839.00" y1="673.52" x2="848.00" y2="673.52" stroke="#000" stroke-width="2.2"/>
<line x1="839.00" y1="704.44" x2="848.00" y2="704.44" stroke="#000" stroke-width="2.2"/>
<line x1="839.00" y1="735.36" x2="848.00" y2="735.36" stroke="#000" stroke-width="2.2"/>
<line x1="839.00" y1="766.28" x2="848.00" y2="766.28" stroke="#000" stroke-width="2.2"/>
<line x1="839.00" y1="797.20" x2="848.00" y2="797.20" stroke="#000" stroke-width="2.2"/>
<line x1="839.00" y1="627.14" x2="843.50" y2="627.14" stroke="#000" stroke-width="2.2"/>
<line x1="839.00" y1="658.06" x2="843.50" y2="658.06" stroke="#000" stroke-width="2.2"/>
<line x1="839.00" y1="688.98" x2="843.50" y2="688.98" stroke="#000" stroke-width="2.2"/>
<line x1="839.00" y1="719.90" x2="843.50" y2="719.90" stroke="#000" stroke-width="2.2"/>
<line x1="839.00" y1="750.82" x2="843.50" y2="750.82" stroke="#000" stroke-width="2.2"/>
<line x1="839.00" y1="781.74" x2="843.50" y2="781.74" stroke="#000" stroke-width="2.2"/>
<line x1="839.00" y1="812.66" x2="843.50" y2="812.66" stroke="#000" stroke-width="2.2"/>
<line x1="839.00" y1="812.40" x2="839.00" y2="803.40" stroke="#000" stroke-width="2.2"/>
<line x1="997.50" y1="812.40" x2="997.50" y2="803.40" stroke="#000" stroke-width="2.2"/>
<line x1="1156.00" y1="812.40" x2="1156.00" y2="803.40" stroke="#000" stroke-width="2.2"/>
<line x1="1314.50" y1="812.40" x2="1314.50" y2="803.40" stroke="#000" stroke-width="2.2"/>
<line x1="918.25" y1="812.40" x2="918.25" y2="807.90" stroke="#000" stroke-width="2.2"/>
<line x1="1076.75" y1="812.40" x2="1076.75" y2="807.90" stroke="#000" stroke-width="2.2"/>
<line x1="1235.25" y1="812.40" x2="1235.25" y2="807.90" stroke="#000" stroke-width="2.2"/>
<rect x="830.35" y="633.95" width="17.3" height="17.3" fill="#40a3d8"/>
<rect x="862.05" y="633.95" width="17.3" height="17.3" fill="#40a3d8"/>
<rect x="893.75" y="633.95" width="17.3" height="17.3" fill="#40a3d8"/>
<rect x="925.45" y="633.95" width="17.3" height="17.3" fill="#40a3d8"/>
<rect x="957.15" y="633.95" width="17.3" height="17.3" fill="#40a3d8"/>
<rect x="988.85" y="633.95" width="17.3" height="17.3" fill="#40a3d8"/>
<rect x="1020.55" y="633.95" width="17.3" height="17.3" fill="#40a3d8"/>
<rect x="1052.25" y="633.95" width="17.3" height="17.3" fill="#40a3d8"/>
<rect x="1083.95" y="633.95" width="17.3" height="17.3" fill="#40a3d8"/>
<rect x="1115.65" y="634.72" width="17.3" height="17.3" fill="#40a3d8"/>
<rect x="1147.35" y="636.89" width="17.3" height="17.3" fill="#40a3d8"/>
<rect x="1179.05" y="642.61" width="17.3" height="17.3" fill="#40a3d8"/>
<rect x="1210.75" y="656.83" width="17.3" height="17.3" fill="#40a3d8"/>
<rect x="1242.45" y="732.89" width="17.3" height="17.3" fill="#40a3d8"/>
<rect x="1274.15" y="776.18" width="17.3" height="17.3" fill="#40a3d8"/>
<rect x="1305.85" y="782.37" width="17.3" height="17.3" fill="#40a3d8"/>
<text x="828.30" y="651.00" font-family='"Liberation Sans", sans-serif' font-size="28.5" text-anchor="end" font-weight="normal" font-style="normal" fill="#000" >0</text>
<text x="828.30" y="681.92" font-family='"Liberation Sans", sans-serif' font-size="28.5" text-anchor="end" font-weight="normal" font-style="normal" fill="#000" >−2</text>
<text x="828.30" y="712.84" font-family='"Liberation Sans", sans-serif' font-size="28.5" text-anchor="end" font-weight="normal" font-style="normal" fill="#000" >−4</text>
<text x="828.30" y="743.76" font-family='"Liberation Sans", sans-serif' font-size="28.5" text-anchor="end" font-weight="normal" font-style="normal" fill="#000" >−6</text>
<text x="828.30" y="774.68" font-family='"Liberation Sans", sans-serif' font-size="28.5" text-anchor="end" font-weight="normal" font-style="normal" fill="#000" >−8</text>
<text x="828.30" y="805.60" font-family='"Liberation Sans", sans-serif' font-size="28.5" text-anchor="end" font-weight="normal" font-style="normal" fill="#000" >−10</text>
<text x="839.00" y="844.60" font-family='"Liberation Sans", sans-serif' font-size="28.5" text-anchor="middle" font-weight="normal" font-style="normal" fill="#000" >0</text>
<text x="997.50" y="844.60" font-family='"Liberation Sans", sans-serif' font-size="28.5" text-anchor="middle" font-weight="normal" font-style="normal" fill="#000" >5</text>
<text x="1156.00" y="844.60" font-family='"Liberation Sans", sans-serif' font-size="28.5" text-anchor="middle" font-weight="normal" font-style="normal" fill="#000" >10</text>
<text x="1314.50" y="844.60" font-family='"Liberation Sans", sans-serif' font-size="28.5" text-anchor="middle" font-weight="normal" font-style="normal" fill="#000" >15</text>
<text x="1077.00" y="890.00" font-family='"Liberation Sans", sans-serif' font-size="28.5" text-anchor="middle" font-weight="normal" font-style="normal" fill="#000" >PGM voltage (V)</text>
<text transform="translate(752.6,756) rotate(-90)" font-family='"Liberation Sans", sans-serif' font-size="28.5" fill="#000">V<tspan font-size="19.5" dy="6">th</tspan><tspan dy="-6"> (V)</tspan></text>
<line x1="883.5" y1="710.3" x2="950.5" y2="710.3" stroke="#40a3d8" stroke-width="4.3"/>
<rect x="908.35" y="701.65" width="17.3" height="17.3" fill="#40a3d8"/>
<line x1="885.6" y1="744.9" x2="939.7" y2="744.9" stroke="#40a3d8" stroke-width="4.3" stroke-dasharray="20 13.8"/>
<text x="955.70" y="720.20" font-family='"Liberation Sans", sans-serif' font-size="28.5" text-anchor="start" font-weight="normal" font-style="normal" fill="#000" >measured</text>
<text x="955.70" y="754.40" font-family='"Liberation Sans", sans-serif' font-size="28.5" text-anchor="start" font-weight="normal" font-style="normal" fill="#000" >simulated</text>
<text x="760.30" y="931.60" font-family='"Liberation Sans", sans-serif' font-size="34" text-anchor="start" font-weight="bold" font-style="normal" fill="#000" >d</text>
<path d="M839.10,946.69 L957.60,953.39 L997.10,1097.77 L1273.60,1097.77" fill="none" stroke="#da9826" stroke-width="4.3" stroke-linecap="butt" stroke-linejoin="round" stroke-dasharray="24 10" clip-path="url(#cd)"/>
<path d="M839.10,948.20 L878.60,952.88 L918.10,963.77 L957.60,1030.77 L997.10,1070.30 L1036.60,1072.82 L1076.10,1074.83 L1115.60,1075.49 L1155.10,1076.00 L1194.60,1076.67 L1234.10,1077.34 L1273.60,1077.67" fill="none" stroke="#da9826" stroke-width="4.5" stroke-linecap="butt" stroke-linejoin="round" clip-path="url(#cd)"/>
<rect x="839.00" y="917.70" width="474.00" height="192.70" fill="none" stroke="#000" stroke-width="2.2"/>
<line x1="839.00" y1="942.50" x2="848.00" y2="942.50" stroke="#000" stroke-width="2.2"/>
<line x1="839.00" y1="976.00" x2="848.00" y2="976.00" stroke="#000" stroke-width="2.2"/>
<line x1="839.00" y1="1009.50" x2="848.00" y2="1009.50" stroke="#000" stroke-width="2.2"/>
<line x1="839.00" y1="1043.00" x2="848.00" y2="1043.00" stroke="#000" stroke-width="2.2"/>
<line x1="839.00" y1="1076.50" x2="848.00" y2="1076.50" stroke="#000" stroke-width="2.2"/>
<line x1="839.00" y1="925.75" x2="843.50" y2="925.75" stroke="#000" stroke-width="2.2"/>
<line x1="839.00" y1="959.25" x2="843.50" y2="959.25" stroke="#000" stroke-width="2.2"/>
<line x1="839.00" y1="992.75" x2="843.50" y2="992.75" stroke="#000" stroke-width="2.2"/>
<line x1="839.00" y1="1026.25" x2="843.50" y2="1026.25" stroke="#000" stroke-width="2.2"/>
<line x1="839.00" y1="1059.75" x2="843.50" y2="1059.75" stroke="#000" stroke-width="2.2"/>
<line x1="839.00" y1="1093.25" x2="843.50" y2="1093.25" stroke="#000" stroke-width="2.2"/>
<line x1="878.60" y1="1110.40" x2="878.60" y2="1101.40" stroke="#000" stroke-width="2.2"/>
<line x1="1076.10" y1="1110.40" x2="1076.10" y2="1101.40" stroke="#000" stroke-width="2.2"/>
<line x1="1273.60" y1="1110.40" x2="1273.60" y2="1101.40" stroke="#000" stroke-width="2.2"/>
<line x1="977.35" y1="1110.40" x2="977.35" y2="1105.90" stroke="#000" stroke-width="2.2"/>
<line x1="1174.85" y1="1110.40" x2="1174.85" y2="1105.90" stroke="#000" stroke-width="2.2"/>
<rect x="828.70" y="937.80" width="20.8" height="20.8" fill="#da9826" stroke="#fff" stroke-width="3.3"/>
<rect x="868.20" y="942.49" width="20.8" height="20.8" fill="#da9826" stroke="#fff" stroke-width="3.3"/>
<rect x="907.70" y="953.37" width="20.8" height="20.8" fill="#da9826" stroke="#fff" stroke-width="3.3"/>
<rect x="947.20" y="1020.37" width="20.8" height="20.8" fill="#da9826" stroke="#fff" stroke-width="3.3"/>
<rect x="986.70" y="1059.90" width="20.8" height="20.8" fill="#da9826" stroke="#fff" stroke-width="3.3"/>
<rect x="1026.20" y="1062.41" width="20.8" height="20.8" fill="#da9826" stroke="#fff" stroke-width="3.3"/>
<rect x="1065.70" y="1064.42" width="20.8" height="20.8" fill="#da9826" stroke="#fff" stroke-width="3.3"/>
<rect x="1105.20" y="1065.09" width="20.8" height="20.8" fill="#da9826" stroke="#fff" stroke-width="3.3"/>
<rect x="1144.70" y="1065.60" width="20.8" height="20.8" fill="#da9826" stroke="#fff" stroke-width="3.3"/>
<rect x="1184.20" y="1066.27" width="20.8" height="20.8" fill="#da9826" stroke="#fff" stroke-width="3.3"/>
<rect x="1223.70" y="1066.94" width="20.8" height="20.8" fill="#da9826" stroke="#fff" stroke-width="3.3"/>
<rect x="1263.20" y="1067.27" width="20.8" height="20.8" fill="#da9826" stroke="#fff" stroke-width="3.3"/>
<text x="828.30" y="950.90" font-family='"Liberation Sans", sans-serif' font-size="28.5" text-anchor="end" font-weight="normal" font-style="normal" fill="#000" >0</text>
<text x="828.30" y="984.40" font-family='"Liberation Sans", sans-serif' font-size="28.5" text-anchor="end" font-weight="normal" font-style="normal" fill="#000" >−2</text>
<text x="828.30" y="1017.90" font-family='"Liberation Sans", sans-serif' font-size="28.5" text-anchor="end" font-weight="normal" font-style="normal" fill="#000" >−4</text>
<text x="828.30" y="1051.40" font-family='"Liberation Sans", sans-serif' font-size="28.5" text-anchor="end" font-weight="normal" font-style="normal" fill="#000" >−6</text>
<text x="828.30" y="1084.90" font-family='"Liberation Sans", sans-serif' font-size="28.5" text-anchor="end" font-weight="normal" font-style="normal" fill="#000" >−8</text>
<text x="828.30" y="1118.40" font-family='"Liberation Sans", sans-serif' font-size="28.5" text-anchor="end" font-weight="normal" font-style="normal" fill="#000" >−10</text>
<text x="878.60" y="1142.40" font-family='"Liberation Sans", sans-serif' font-size="28.5" text-anchor="middle" font-weight="normal" font-style="normal" fill="#000" >−10</text>
<text x="1076.10" y="1142.40" font-family='"Liberation Sans", sans-serif' font-size="28.5" text-anchor="middle" font-weight="normal" font-style="normal" fill="#000" >−5</text>
<text x="1273.60" y="1142.40" font-family='"Liberation Sans", sans-serif' font-size="28.5" text-anchor="middle" font-weight="normal" font-style="normal" fill="#000" >0</text>
<text x="1077.00" y="1188.20" font-family='"Liberation Sans", sans-serif' font-size="28.5" text-anchor="middle" font-weight="normal" font-style="normal" fill="#000" >ERS voltage (V)</text>
<text transform="translate(752.0,1054) rotate(-90)" font-family='"Liberation Sans", sans-serif' font-size="28.5" fill="#000">V<tspan font-size="19.5" dy="6">th</tspan><tspan dy="-6"> (V)</tspan></text>
<line x1="1072.6" y1="957.8" x2="1140" y2="957.8" stroke="#da9826" stroke-width="4.3"/>
<rect x="1095.90" y="947.40" width="20.8" height="20.8" fill="#da9826" stroke="#fff" stroke-width="3.3"/>
<line x1="1074.8" y1="992.6" x2="1129.1" y2="992.6" stroke="#da9826" stroke-width="4.3" stroke-dasharray="20.2 14.1"/>
<text x="1144.80" y="967.60" font-family='"Liberation Sans", sans-serif' font-size="28.5" text-anchor="start" font-weight="normal" font-style="normal" fill="#000" >measured</text>
<text x="1144.80" y="1001.70" font-family='"Liberation Sans", sans-serif' font-size="28.5" text-anchor="start" font-weight="normal" font-style="normal" fill="#000" >simulated</text>
</svg>
</body></html>
